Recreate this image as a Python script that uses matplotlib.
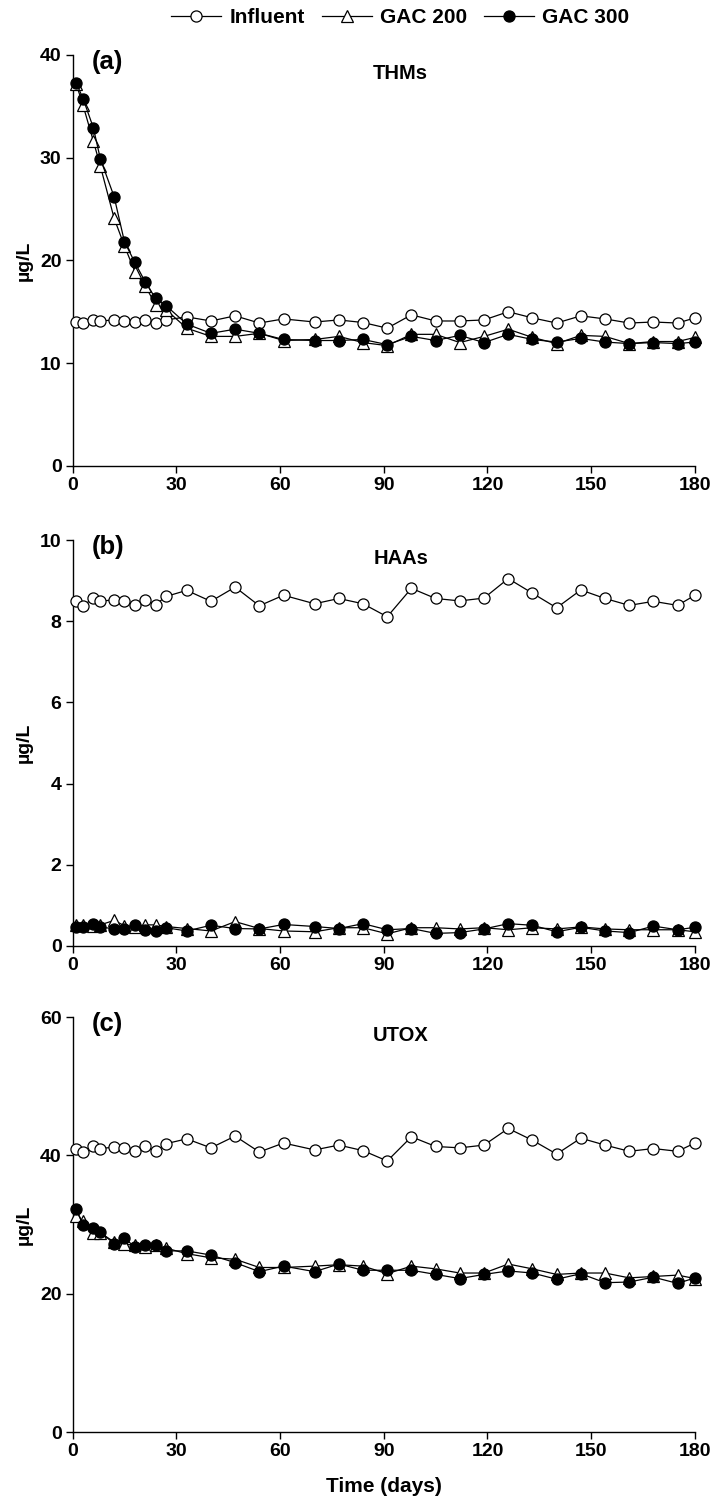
import matplotlib
matplotlib.use("Agg")
import matplotlib.pyplot as plt

plt.rcParams['font.family'] = ['Liberation Sans', 'DejaVu Sans']
plt.rcParams['font.weight'] = 'bold'

# sampling days
days = [1, 3, 6, 8, 12, 15, 18, 21, 24, 27, 33, 40, 47, 54, 61, 70,
        77, 84, 91, 98, 105, 112, 119, 126, 133, 140, 147, 154, 161, 168, 175, 180]

# (a) THMs
thm_inf = [14.0, 13.9, 14.2, 14.1, 14.2, 14.1, 14.0, 14.2, 13.9, 14.2, 14.5, 14.1,
           14.6, 13.9, 14.3, 14.0, 14.2, 13.95, 13.4, 14.7, 14.1, 14.1, 14.2, 15.0,
           14.4, 13.9, 14.6, 14.3, 13.9, 14.0, 13.9, 14.4]
thm_200 = [37.2, 35.1, 31.6, 29.2, 24.1, 21.4, 18.9, 17.5, 15.7, 15.2, 13.4, 12.6,
           12.6, 12.9, 12.2, 12.3, 12.6, 12.0, 11.7, 12.8, 12.8, 12.0, 12.6, 13.3,
           12.5, 11.9, 12.7, 12.6, 11.9, 12.1, 12.1, 12.5]
thm_300 = [37.3, 35.75, 32.9, 29.9, 26.2, 21.8, 19.8, 17.9, 16.3, 15.6, 13.8, 12.9,
           13.3, 12.9, 12.3, 12.2, 12.2, 12.3, 11.8, 12.6, 12.2, 12.7, 12.0, 12.8,
           12.3, 12.05, 12.4, 12.05, 11.9, 12.0, 11.9, 12.05]

# (b) HAAs
haa_inf = [8.49, 8.38, 8.57, 8.49, 8.53, 8.51, 8.41, 8.53, 8.41, 8.61, 8.76, 8.49,
           8.84, 8.38, 8.64, 8.43, 8.56, 8.43, 8.11, 8.81, 8.56, 8.50, 8.57, 9.05,
           8.69, 8.33, 8.77, 8.56, 8.39, 8.49, 8.39, 8.64]
haa_200 = [0.52, 0.52, 0.50, 0.52, 0.63, 0.50, 0.48, 0.52, 0.52, 0.48, 0.43, 0.37,
           0.60, 0.43, 0.37, 0.35, 0.45, 0.45, 0.30, 0.45, 0.45, 0.42, 0.45, 0.40,
           0.45, 0.42, 0.47, 0.42, 0.40, 0.40, 0.40, 0.35]
haa_300 = [0.48, 0.48, 0.55, 0.46, 0.43, 0.43, 0.51, 0.39, 0.37, 0.45, 0.37, 0.51,
           0.43, 0.42, 0.53, 0.48, 0.43, 0.55, 0.40, 0.43, 0.31, 0.33, 0.42, 0.55,
           0.51, 0.35, 0.46, 0.37, 0.33, 0.49, 0.40, 0.46]

# (c) UTOX
utox_inf = [40.9, 40.5, 41.4, 41.0, 41.2, 41.1, 40.7, 41.3, 40.6, 41.7, 42.4, 41.1,
            42.8, 40.5, 41.8, 40.8, 41.5, 40.7, 39.2, 42.7, 41.3, 41.1, 41.5, 43.9,
            42.2, 40.2, 42.5, 41.5, 40.6, 41.0, 40.6, 41.8]
utox_200 = [31.3, 30.5, 28.8, 28.8, 27.5, 27.2, 27.0, 26.8, 27.0, 26.6, 25.8, 25.2,
            25.0, 23.8, 23.8, 24.0, 24.2, 24.0, 22.9, 24.0, 23.6, 23.0, 23.0, 24.3,
            23.6, 22.8, 23.0, 23.0, 22.3, 22.5, 22.7, 22.2]
utox_300 = [32.2, 30.0, 29.5, 29.0, 27.2, 28.0, 26.8, 27.1, 27.1, 26.2, 26.2, 25.6,
            24.5, 23.2, 24.0, 23.2, 24.3, 23.4, 23.4, 23.4, 22.8, 22.2, 22.8, 23.3,
            23.0, 22.1, 22.9, 21.6, 21.7, 22.4, 21.5, 22.3]

panels = [
    ("(a)", "THMs", thm_inf, thm_200, thm_300, 40, [0, 10, 20, 30, 40]),
    ("(b)", "HAAs", haa_inf, haa_200, haa_300, 10, [0, 2, 4, 6, 8, 10]),
    ("(c)", "UTOX", utox_inf, utox_200, utox_300, 60, [0, 20, 40, 60]),
]

fig = plt.figure(figsize=(7.12, 14.98), dpi=100)
boxes = [(0.102, 0.689, 0.874, 0.2744),
         (0.102, 0.3685, 0.874, 0.271),
         (0.102, 0.044, 0.874, 0.277)]

for box, (tag, name, inf, g200, g300, ymax, yt) in zip(boxes, panels):
    ax = fig.add_axes(box)
    ax.plot(days, inf, color='black', lw=0.9, marker='o', ms=8, mfc='white',
            mec='black', mew=0.9, label='Influent', zorder=3)
    ax.plot(days, g200, color='black', lw=0.9, marker='^', ms=8.5, mfc='white',
            mec='black', mew=0.9, label='GAC 200', zorder=4)
    ax.plot(days, g300, color='black', lw=0.9, marker='o', ms=8, mfc='black',
            mec='black', mew=0.9, label='GAC 300', zorder=5)
    ax.set_xlim(0, 180)
    ax.set_ylim(0, ymax)
    ax.set_xticks(range(0, 181, 30))
    ax.set_yticks(yt)
    for s in ['top', 'right']:
        ax.spines[s].set_visible(False)
    for s in ['left', 'bottom']:
        ax.spines[s].set_linewidth(1.0)
    ax.tick_params(direction='out', length=5, width=1.0, labelsize=14, pad=3)
    for lab in ax.get_xticklabels() + ax.get_yticklabels():
        lab.set_fontweight('bold')
    ax.set_ylabel("µg/L", fontsize=14, fontweight='bold', labelpad=5)
    ax.text(0.03, 0.983, tag, transform=ax.transAxes, fontsize=18.5,
            fontweight='bold', va='center', ha='left')
    ax.text(0.527, 0.955, name, transform=ax.transAxes, fontsize=14.5,
            fontweight='bold', va='center', ha='center')
    for line in ax.lines:
        line.set_clip_on(False)

ax.set_xlabel("Time (days)", fontsize=15, fontweight='bold', labelpad=12)

handles, labels = ax.get_legend_handles_labels()
fig.legend(handles, labels, loc='center', bbox_to_anchor=(0.562, 0.988), ncol=3,
           frameon=False, handlelength=2.4, handletextpad=0.4, columnspacing=0.8,
           prop={'size': 15, 'weight': 'bold'})

fig.savefig("out.png", dpi=100)
